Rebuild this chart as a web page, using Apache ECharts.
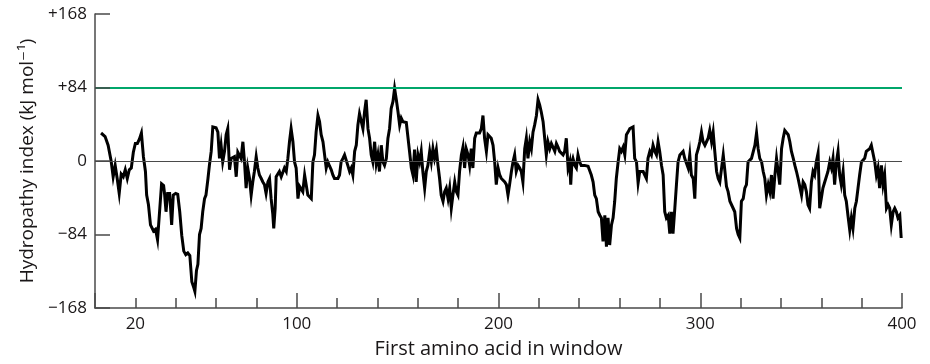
<!DOCTYPE html>
<html><head><meta charset="utf-8">
<script src="https://cdn.jsdelivr.net/npm/echarts@6/dist/echarts.min.js"></script>
<style>html,body{margin:0;padding:0;background:#fff}#c{width:930px;height:364px}</style>
</head><body><div id="c"></div>
<script>
// First amino acid in window (x) and hydropathy index in kJ/mol (y)
const residue = [
  3,5,6.5,8,9,10,11,12,13,14,15,16,17,18,19,20,21,22,23,24,25,25.6,26.5,27.5,29,30,31,32,33,34,34.5,35.2,36,37,38,38.8,40,41,42,43,44,45,46,47,48,49,49.5,
  50.3,51,51.8,52.6,53.4,54.3,55,56,56.7,57.6,58.4,59.2,60,60.9,61.7,62.5,63.3,64.2,65,65.8,66.7,67.5,68.3,69.1,70,70.8,71.6,72.4,73.3,74.1,74.9,75.7,76.6,77.4,78.2,79,79.9,80.7,81.5,82.4,83.2,84,84.8,85.7,86.5,87.3,88.1,88.6,89.3,89.8,90.6,91.4,92.3,93,93.9,94.8,95.6,96.4,97.2,98.1,98.9,
  99.7,100.6,101.4,102.2,103,103.9,104.7,105.5,106.3,107.2,108,108.8,109.6,110.5,111.3,112.1,113,113.8,114.6,115.4,116.3,117.1,117.9,118.7,119.6,120.4,121.2,122,122.9,123.7,124.5,125.3,126.2,127,127.8,128.7,129.5,130.3,131.1,132,132.8,133.6,134.4,135.3,136.1,136.9,137.7,138.6,139.4,140.2,141,141.9,142.7,143.5,144.4,145.2,146,146.8,147.7,148.5,
  149.3,150.2,151,151.8,152.6,153.5,154.3,155.1,155.9,156.8,157.6,158.4,159.2,160.1,160.9,161.7,162.5,163.4,164.2,165,165.9,166.7,167.5,168.3,169.2,170,170.8,171.6,172.5,173.3,174.1,175,175.8,176.6,177.4,178.3,179.1,179.9,180.7,181.6,182.4,183.2,184,184.9,185.7,186.5,187.3,188.2,189,189.8,190.6,191.5,192.3,193.1,194,194.8,195.6,196.4,197.3,198.1,
  198.9,199.8,200.6,201.4,202.2,203.1,203.9,204.7,205.5,206.4,207.2,208,208.8,209.7,210.5,211.3,212.1,213,213.8,214.6,215.5,216.3,217.1,217.9,218.8,219.6,220.4,221.2,222.1,222.9,223.7,224.5,225.4,226.2,227,227.9,228.7,229.5,230.3,231.2,232,232.8,233.6,234.5,235.3,235.8,236.4,236.9,237.8,238.6,239.4,240.2,241,241.9,242.7,243.5,244.4,245.2,246,246.9,247.7,
  248.5,249.4,250.2,251,251.8,252.7,253.5,254.3,255.1,256,256.8,257.6,258.4,259.3,260.1,260.9,261.8,262.6,263.4,264.2,265.1,265.9,266.7,267.5,268.4,269.2,270,270.8,271.7,272.5,273.3,274.1,275,275.8,276.6,277.5,278.3,279.1,279.9,280.8,281.6,282.4,283.2,284.1,284.9,285.7,286.5,287.4,288.2,289,289.9,290.7,291.5,292.3,293.2,294,294.8,295.6,296.5,297.3,
  298.1,299,299.8,300.6,301.4,302.3,303.1,303.9,304.7,305.6,306.4,307.2,308.1,308.9,309.7,310.5,311.4,312.2,313,313.8,314.7,315.5,316.3,317.1,318,318.8,319.6,320.4,321.3,322.1,322.9,323.7,324.6,325.4,326.2,327.1,327.9,328.7,329.5,330.4,331.2,332,332.8,333.7,334.5,335.3,336.1,337,337.8,338.6,339.4,340.3,341.1,341.9,342.8,343.6,344.4,345.2,346.1,346.9,347.7,
  348.5,349.4,350.2,351,351.8,352.6,353.4,354.2,355.1,355.9,356.7,357.5,358.4,359.2,360,360.8,361.7,362.5,363.3,364.2,365,365.8,366.6,367.5,368.3,369.1,369.9,370.8,371.6,372.4,373.2,374.1,374.9,375.7,376.6,377.4,378.2,379,379.9,380.7,381.5,382.3,383.2,384,384.8,385.6,386.5,387.3,388.1,388.9,389.8,390.6,391.4,392.3,393.1,393.9,394.7,395.6,396.4,397.2,398,398.9,399.6
];
const hydropathy = [
  32,28,18,0,-18,-5,-20,-37,-15,-18,-10,-20,-10,-8,10,20,20,25,32,5,-12,-39,-50,-73,-80,-78,-90,-58,-26,-28,-38,-58,-37,-37,-73,-39,-37,-38,-58,-85,-103,-107,-105,-108,-138,-145,-149,
  -125,-118,-84,-77,-58,-43,-39,-20,-5,11,39,38,38,33,3,18,-1,11,30,37,-10,3,1,5,-18,10,11,3,22,-1,-31,-8,-20,-39,-24,-12,5,-8,-16,-20,-24,-27,-37,-24,-20,-43,-60,-77,-54,-18,-20,-12,-18,-18,-8,-12,3,22,37,22,-1,
  -8,-43,-29,-29,-35,-16,-14,-39,-41,-43,-1,7,33,52,45,30,22,7,-8,-1,-6,-10,-16,-20,-22,-20,-16,-1,3,7,5,-5,-12,-8,-16,11,18,41,54,45,37,56,70,37,26,7,-1,22,-3,7,-12,18,-1,-5,3,26,37,60,68,83,
  71,56,41,49,45,45,44,45,11,-8,-16,13,-24,7,-1,11,-12,-31,-12,-5,11,-1,14,3,13,-5,-20,-39,-46,-35,-31,-43,-31,-54,-39,-24,-35,-39,-12,7,16,-8,14,7,-5,14,-8,26,32,33,32,37,52,26,11,30,32,26,18,-1,
  -27,-8,-16,-20,-22,-24,-27,-39,-27,-12,-1,7,-12,-5,-8,-12,-24,14,26,3,22,14,33,41,52,70,64,56,45,26,7,22,14,20,18,11,20,16,11,9,7,11,26,-8,-1,-27,-1,3,-5,-8,7,-1,-5,-6,-5,-5,-6,-8,-16,-24,-39,
  -43,-58,-62,-65,-92,-62,-98,-65,-96,-73,-65,-46,-20,-1,14,11,16,7,30,33,37,39,39,3,-1,-25,-12,-14,-12,-16,-20,3,11,7,18,11,7,22,11,-5,-16,-58,-65,-62,-83,-58,-83,-54,-27,-1,7,9,11,3,3,-8,7,-16,-20,-43,
  7,14,22,33,22,18,22,26,35,22,33,11,-12,-20,-24,-24,7,7,-29,-35,-46,-50,-54,-58,-77,-84,-88,-46,-43,-31,-27,-1,-1,3,5,18,32,14,3,-1,-12,-20,-39,-27,-35,-16,-43,-16,3,3,-27,14,26,35,33,30,22,11,3,-5,-12,
  -20,-22,-39,-24,-27,-35,-50,-54,-24,-12,-16,-1,9,-54,-43,-31,-24,-24,-12,-1,-8,3,-27,-1,11,-16,-27,-12,-39,-46,-62,-79,-65,-77,-54,-46,-31,-16,-1,-1,3,11,13,14,18,20,-1,-16,-8,-31,-5,-27,-16,-54,-50,-54,-73,-58,-54,-58,-65,-62,-88
];
const yTicks = [-168, -84, 0, 84, 168];
const xLabelValues = [20, 100, 200, 300, 400];
const referenceLevels = [0, 84];

const FONT = '"Open Sans", "DejaVu Sans", sans-serif';
const TXT = '#1a1718';
const AX = '#4a4a4a';

const n = Math.min(residue.length, hydropathy.length);
if (residue.length !== hydropathy.length) console.warn('length mismatch', residue.length, hydropathy.length);
const pairs = [];
for (let i = 0; i < n; i++) pairs.push([residue[i], hydropathy[i]]);

const chart = echarts.init(document.getElementById('c'), null, {renderer: 'canvas'});
chart.setOption({
  animation: false,
  grid: {left: 95, right: 28, top: 14, bottom: 55},
  xAxis: [{
    type: 'value', min: 0, max: 400, interval: 20, position: 'bottom',
    axisLine: {show: true, onZero: false, lineStyle: {color: AX, width: 1.5}},
    axisTick: {show: true, inside: true, length: 10, lineStyle: {color: AX, width: 1.5}},
    axisLabel: {margin: 8, fontSize: 17, color: TXT, fontFamily: FONT,
      formatter: v => xLabelValues.includes(v) ? String(v) : ''},
    splitLine: {show: false},
    name: 'First amino acid in window', nameLocation: 'middle', nameGap: 31,
    nameTextStyle: {fontSize: 20, color: TXT, fontFamily: FONT}
  }, {
    type: 'value', min: 0, max: 400, interval: 100, position: 'bottom',
    axisLine: {show: false, onZero: false},
    axisTick: {show: true, inside: true, length: 15, lineStyle: {color: AX, width: 1.5}},
    axisLabel: {show: false}, splitLine: {show: false}
  }],
  yAxis: {
    type: 'value', min: yTicks[0], max: yTicks[yTicks.length - 1], interval: 84, z: 10,
    axisLine: {show: true, onZero: false, lineStyle: {color: AX, width: 1.5}},
    axisTick: {show: true, inside: true, length: 15, lineStyle: {color: AX, width: 1.5}},
    axisLabel: {margin: 8, fontSize: 17, color: TXT, fontFamily: FONT,
      formatter: v => v > 0 ? '+' + v : (v < 0 ? '\u2212' + Math.abs(v) : '0')},
    splitLine: {show: false},
    name: 'Hydropathy index (kJ mol\u207B\u00B9)', nameLocation: 'middle', nameGap: 58, nameRotate: 90,
    nameTextStyle: {fontSize: 19, color: TXT, fontFamily: FONT}
  },
  series: [{
    type: 'line', data: [], z: 1, silent: true,
    markLine: {
      silent: true, symbol: 'none', animation: false, label: {show: false},
      data: [
        {yAxis: referenceLevels[0], lineStyle: {color: '#4a4a4a', width: 1, type: 'solid'}},
        {yAxis: referenceLevels[1], lineStyle: {color: '#00a66a', width: 2.2, type: 'solid'}}
      ]
    }
  }, {
    type: 'line', data: pairs, z: 3, showSymbol: false, symbol: 'none',
    lineStyle: {color: '#000', width: 3, join: 'miter'}
  }]
});
</script>
</body></html>
